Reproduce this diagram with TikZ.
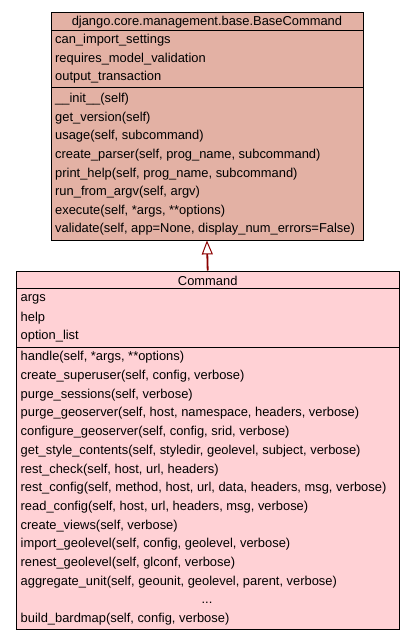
\documentclass[tikz,border=0pt]{standalone}
\usepackage{fontspec}
\setmainfont{Liberation Sans}
\usepackage{tikz}
\usetikzlibrary{arrows.meta}
\usetikzlibrary{positioning}
\definecolor{basecol}{RGB}{227,177,164}
\definecolor{cmdcol}{RGB}{255,209,213}
\definecolor{inhred}{RGB}{139,0,0}
\begin{document}
\begin{tikzpicture}[x=1pt,y=-1pt,
  box/.style={draw,line width=0.9pt,rectangle,inner sep=0pt,anchor=north west},
  txt/.style={anchor=west,inner sep=0pt,font=\fontsize{12.9}{14}\selectfont},
  inherit/.style={-{Triangle[open,length=14pt,width=11pt,line width=1pt]},line width=1.8pt,draw=inhred}]
  \useasboundingbox (0,0) rectangle (413,640);

  % base class
  \node[box,fill=basecol,minimum width=312pt,minimum height=18pt](bhead) at (50.5,11.5){};
  \node[box,fill=basecol,minimum width=312pt,minimum height=57.5pt](battr) at (50.5,29.5){};
  \node[box,fill=basecol,minimum width=312pt,minimum height=152.5pt](bmeth) at (50.5,87){};
  \node[txt,anchor=center](btitle) at ([yshift=-1pt]bhead.center){django.core.management.base.BaseCommand};
  \foreach \t [count=\i] in {can\_import\_settings,requires\_model\_validation,output\_transaction}
    \node[txt](ba\i) at (55,{21.5+18.6*\i}){\t};
  \foreach \t [count=\i] in {\_\_init\_\_(self),get\_version(self),{usage(self, subcommand)},
      {create\_parser(self, prog\_name, subcommand)},{print\_help(self, prog\_name, subcommand)},
      {run\_from\_argv(self, argv)},{execute(self, *args, **options)},
      {validate(self, app=None, display\_num\_errors=False)}}
    \node[txt](bm\i) at (55,{80.7+18.6*\i}){\t};

  % Command
  \node[box,fill=cmdcol,minimum width=383.5pt,minimum height=17.2pt](chead) at (15.5,270.5){};
  \node[box,fill=cmdcol,minimum width=383.5pt,minimum height=59.3pt](cattr) at (15.5,287.7){};
  \node[box,fill=cmdcol,minimum width=383.5pt,minimum height=282pt](cmeth) at (15.5,347){};
  \node[txt,anchor=center](ctitle) at ([yshift=-1pt]chead.center){Command};
  \foreach \t [count=\i] in {args,help,option\_list}
    \node[txt](ca\i) at (20.5,{280.8+18.6*\i}){\t};
  \foreach \t [count=\i] in {{handle(self, *args, **options)},{create\_superuser(self, config, verbose)},
      {purge\_sessions(self, verbose)},{purge\_geoserver(self, host, namespace, headers, verbose)},
      {configure\_geoserver(self, config, srid, verbose)},
      {get\_style\_contents(self, styledir, geolevel, subject, verbose)},
      {rest\_check(self, host, url, headers)},
      {rest\_config(self, method, host, url, data, headers, msg, verbose)},
      {read\_config(self, host, url, headers, msg, verbose)},{create\_views(self, verbose)},
      {import\_geolevel(self, config, geolevel, verbose)},{renest\_geolevel(self, glconf, verbose)},
      {aggregate\_unit(self, geounit, geolevel, parent, verbose)}}
    \node[txt](cm\i) at (20.5,{338.8+18.7*\i}){\t};
  \node[txt,anchor=center](cdots) at (207,600.5){\vphantom{(}...};
  \node[txt](clast) at (20.5,619.5){build\_bardmap(self, config, verbose)};

  \draw[inherit](chead.north)--(bmeth.south);
\end{tikzpicture}
\end{document}
